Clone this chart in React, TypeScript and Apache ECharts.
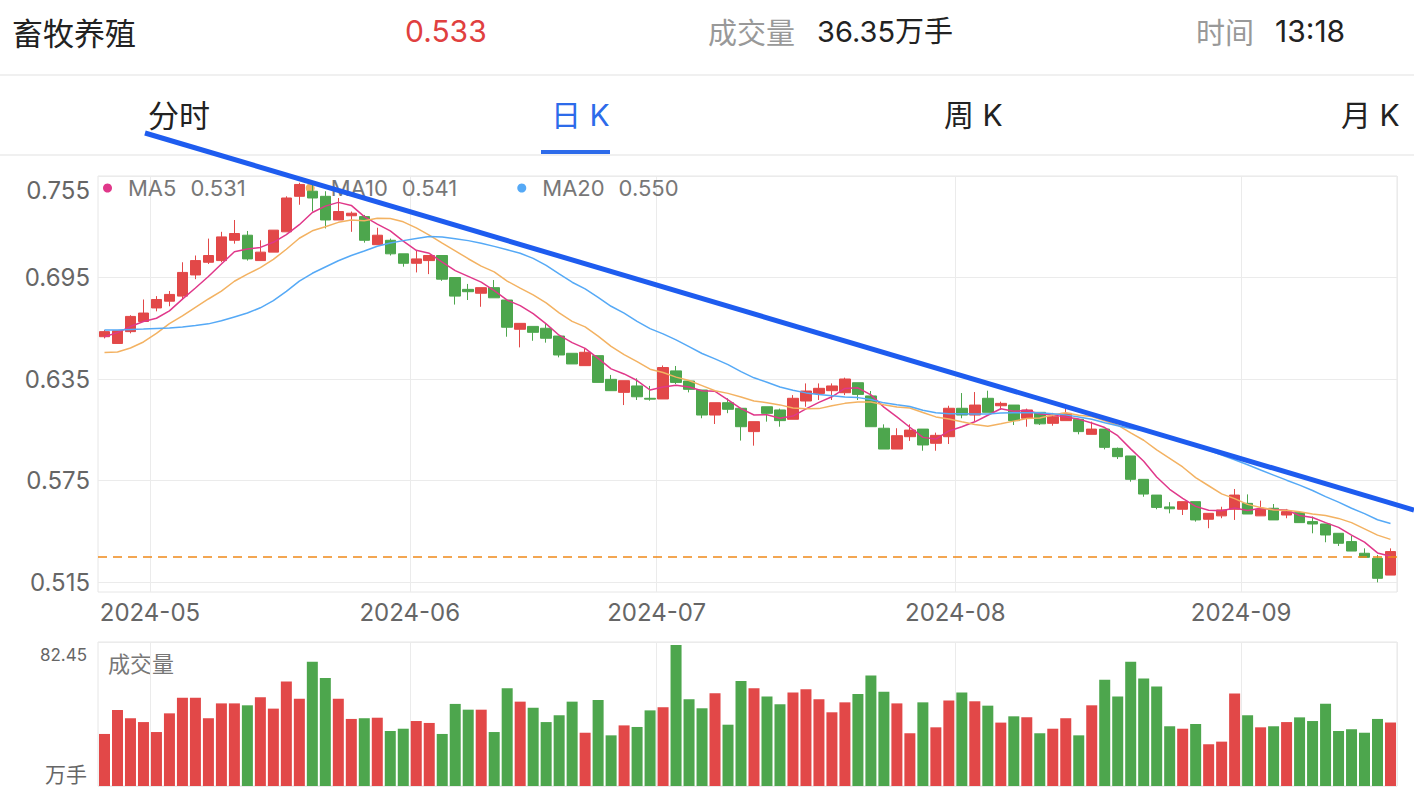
import React, { useEffect, useRef } from 'react';
import * as echarts from 'echarts';

// ---------- data ----------
const dates: string[] = [
  '2024-04-25', '2024-04-26', '2024-04-29', '2024-04-30',
  '2024-05-06', '2024-05-07', '2024-05-08', '2024-05-09', '2024-05-10', '2024-05-13', '2024-05-14', '2024-05-15', '2024-05-16', '2024-05-17',
  '2024-05-20', '2024-05-21', '2024-05-22', '2024-05-23', '2024-05-24', '2024-05-27', '2024-05-28', '2024-05-29', '2024-05-30', '2024-05-31',
  '2024-06-03', '2024-06-04', '2024-06-05', '2024-06-06', '2024-06-07', '2024-06-11', '2024-06-12', '2024-06-13', '2024-06-14', '2024-06-17',
  '2024-06-18', '2024-06-19', '2024-06-20', '2024-06-21', '2024-06-24', '2024-06-25', '2024-06-26', '2024-06-27', '2024-06-28',
  '2024-07-01', '2024-07-02', '2024-07-03', '2024-07-04', '2024-07-05', '2024-07-08', '2024-07-09', '2024-07-10', '2024-07-11', '2024-07-12',
  '2024-07-15', '2024-07-16', '2024-07-17', '2024-07-18', '2024-07-19', '2024-07-22', '2024-07-23', '2024-07-24', '2024-07-25', '2024-07-26',
  '2024-07-29', '2024-07-30', '2024-07-31',
  '2024-08-01', '2024-08-02', '2024-08-05', '2024-08-06', '2024-08-07', '2024-08-08', '2024-08-09', '2024-08-12', '2024-08-13', '2024-08-14',
  '2024-08-15', '2024-08-16', '2024-08-19', '2024-08-20', '2024-08-21', '2024-08-22', '2024-08-23', '2024-08-26', '2024-08-27', '2024-08-28',
  '2024-08-29', '2024-08-30',
  '2024-09-02', '2024-09-03', '2024-09-04', '2024-09-05', '2024-09-06', '2024-09-09', '2024-09-10', '2024-09-11', '2024-09-12', '2024-09-13',
  '2024-09-18', '2024-09-19',
];

const opens: number[] = [
  0.660, 0.656, 0.663, 0.669, 0.677, 0.681, 0.684, 0.6965, 0.704, 0.705,
  0.717, 0.720, 0.705, 0.710, 0.722, 0.743, 0.746, 0.743, 0.729, 0.7315,
  0.731, 0.7144, 0.717, 0.709, 0.7034, 0.705, 0.708, 0.695, 0.688, 0.6857,
  0.689, 0.6817, 0.6644, 0.6661, 0.665, 0.6604, 0.6502, 0.6429, 0.6488, 0.6348,
  0.6271, 0.6309, 0.6236, 0.6232, 0.6398, 0.6338, 0.6285, 0.6137, 0.621, 0.6177,
  0.6039, 0.6186, 0.6167, 0.6112, 0.622, 0.6265, 0.6281, 0.6269, 0.6328, 0.625,
  0.6059, 0.5936, 0.6009, 0.6054, 0.597, 0.6009, 0.6177, 0.6137, 0.6236, 0.6192,
  0.6196, 0.6118, 0.6153, 0.6088, 0.6104, 0.6112, 0.6023, 0.6054, 0.594, 0.5895,
  0.5757, 0.5664, 0.5594, 0.558, 0.5625, 0.5521, 0.5541, 0.558, 0.5615, 0.5541,
  0.5586, 0.5546, 0.556, 0.5507, 0.5493, 0.5438, 0.5389, 0.532, 0.529, 0.5191,
];
const closes: number[] = [
  0.663, 0.6635, 0.672, 0.674, 0.682, 0.685, 0.698, 0.705, 0.708, 0.719,
  0.721, 0.706, 0.710, 0.723, 0.742, 0.750, 0.742, 0.729, 0.734, 0.733,
  0.717, 0.720, 0.709, 0.7034, 0.706, 0.708, 0.694, 0.684, 0.6866, 0.689,
  0.683, 0.6656, 0.6679, 0.6626, 0.6591, 0.6492, 0.6439, 0.6508, 0.633, 0.6281,
  0.634, 0.6245, 0.6231, 0.6418, 0.633, 0.6289, 0.6137, 0.621, 0.6171, 0.6068,
  0.6098, 0.6147, 0.6104, 0.6236, 0.6279, 0.6295, 0.6309, 0.635, 0.6259, 0.6068,
  0.5936, 0.6015, 0.6048, 0.596, 0.6017, 0.6177, 0.6137, 0.6196, 0.6153, 0.6206,
  0.6104, 0.6167, 0.6085, 0.6127, 0.6147, 0.6039, 0.6054, 0.5946, 0.5891, 0.5757,
  0.567, 0.5591, 0.5583, 0.5625, 0.5517, 0.5556, 0.5576, 0.5664, 0.5552, 0.558,
  0.5517, 0.5566, 0.5501, 0.5493, 0.5428, 0.5379, 0.5333, 0.5296, 0.5172, 0.533,
];
const lows: number[] = [
  0.659, 0.656, 0.662, 0.669, 0.675, 0.678, 0.682, 0.694, 0.703, 0.704,
  0.715, 0.705, 0.705, 0.710, 0.722, 0.738, 0.734, 0.724, 0.729, 0.722,
  0.7156, 0.7144, 0.708, 0.7014, 0.698, 0.697, 0.693, 0.679, 0.6817, 0.6777,
  0.683, 0.660, 0.6537, 0.6576, 0.6565, 0.6478, 0.6439, 0.6429, 0.633, 0.6281,
  0.6196, 0.6226, 0.6222, 0.6232, 0.632, 0.6271, 0.6118, 0.6084, 0.6148, 0.5986,
  0.5956, 0.6098, 0.6068, 0.6112, 0.6186, 0.6226, 0.6226, 0.6255, 0.6226, 0.6068,
  0.5936, 0.5936, 0.5984, 0.5926, 0.5926, 0.5966, 0.6118, 0.6102, 0.6153, 0.6167,
  0.6078, 0.6068, 0.6078, 0.6074, 0.6104, 0.6023, 0.6023, 0.5934, 0.5877, 0.5743,
  0.5654, 0.558, 0.5556, 0.5546, 0.5507, 0.5468, 0.5527, 0.5517, 0.5552, 0.5541,
  0.5517, 0.5527, 0.5501, 0.5438, 0.5385, 0.5363, 0.5333, 0.5296, 0.5148, 0.5191,
];
const highs: number[] = [
  0.664, 0.6635, 0.6727, 0.682, 0.684, 0.687, 0.704, 0.708, 0.718, 0.722,
  0.729, 0.7225, 0.717, 0.723, 0.743, 0.751, 0.750, 0.746, 0.742, 0.734,
  0.732, 0.7244, 0.718, 0.709, 0.711, 0.708, 0.708, 0.695, 0.6912, 0.689,
  0.6935, 0.6817, 0.668, 0.6661, 0.6675, 0.6604, 0.6502, 0.6531, 0.6488, 0.6374,
  0.634, 0.6354, 0.6309, 0.643, 0.6427, 0.6338, 0.6285, 0.621, 0.6236, 0.6177,
  0.6098, 0.6186, 0.6175, 0.6255, 0.6324, 0.6324, 0.6324, 0.6358, 0.6328, 0.6279,
  0.6082, 0.6059, 0.6082, 0.6054, 0.6033, 0.6192, 0.6267, 0.6273, 0.6281, 0.6216,
  0.6196, 0.6175, 0.6153, 0.615, 0.6196, 0.6112, 0.6098, 0.6054, 0.5945, 0.5895,
  0.5757, 0.5664, 0.5622, 0.5625, 0.5625, 0.5556, 0.5595, 0.570, 0.5668, 0.5631,
  0.5611, 0.5582, 0.5565, 0.5537, 0.5493, 0.5438, 0.5422, 0.5349, 0.531, 0.5349,
];
// volume, 万手
const volumes: number[] = [
  29.8, 43.5, 38.8, 36.6, 30.9, 41.6, 50.6, 50.6, 38.8, 47.3,
  47.3, 46.2, 50.8, 44.3, 59.9, 50.0, 71.2, 61.8, 50.0, 38.4,
  38.8, 39.1, 31.5, 32.8, 37.2, 36.1, 29.8, 47.0, 43.7, 43.7,
  30.9, 55.9, 48.3, 44.8, 36.6, 40.5, 48.3, 30.5, 49.2, 29.0,
  34.7, 33.8, 43.3, 45.1, 80.7, 49.6, 44.5, 53.1, 35.1, 60.1,
  55.9, 51.2, 46.8, 53.6, 55.4, 49.6, 42.2, 47.9, 52.7, 63.2,
  54.0, 47.3, 30.2, 47.9, 33.6, 48.9, 53.6, 48.5, 46.0, 36.3,
  39.9, 39.3, 30.2, 32.8, 38.8, 29.0, 46.2, 60.9, 51.3, 71.2,
  61.6, 56.9, 34.2, 32.8, 35.5, 23.9, 25.4, 52.9, 40.5, 33.6,
  34.2, 36.6, 39.3, 37.2, 47.1, 31.5, 32.5, 30.5, 38.4, 36.35,
];
// closes of the 19 sessions before the first shown candle (estimated from where the MA lines start)
const priorCloses: number[] = [
  0.665, 0.664, 0.670, 0.675, 0.680, 0.684, 0.690, 0.688, 0.682, 0.676,
  0.660, 0.648, 0.638, 0.6315, 0.6285, 0.6515, 0.654, 0.659, 0.6725,
];

const maPeriods: number[] = [5, 10, 20];
const maNames: string[] = ['MA5', 'MA10', 'MA20'];
const maLegendValues: string[] = ['0.531', '0.541', '0.550'];
const maColors: string[] = ['#E0388A', '#F3B262', '#55A9F6'];

const priceTicks: number[] = [0.515, 0.575, 0.635, 0.695, 0.755];
const priceMin = 0.5091;
const priceMax = 0.755;
const volTicks: number[] = [0, 82.45];

const header = { name: '畜牧养殖', price: '0.533', volLabel: '成交量', vol: '36.35万手', timeLabel: '时间', time: '13:18' };
const tabs: string[] = ['分时', '日 K', '周 K', '月 K'];

const UP = '#E24848';
const DOWN = '#4DA64D';
const CJK = '"Noto Sans CJK SC", sans-serif';
const LAT = 'Inter, "Noto Sans CJK SC", sans-serif';

function movingAverage(period: number): (number | string)[] {
  const all = priorCloses.concat(closes);
  const off = priorCloses.length;
  return closes.map((_, i) => {
    const end = off + i;
    if (end - period + 1 < 0) return '-';
    let s = 0;
    for (let k = end - period + 1; k <= end; k++) s += all[k];
    return +(s / period).toFixed(4);
  });
}

const isMonthStart = (i: number) => i > 0 && dates[i].slice(0, 7) !== dates[i - 1].slice(0, 7);

export default function App() {
  const ref = useRef<HTMLDivElement>(null);
  useEffect(() => {
    document.body.style.margin = '0';
    const chart = echarts.init(ref.current!, null, { renderer: 'svg' });
    const ohlc = dates.map((_, i) => [opens[i], closes[i], lows[i], highs[i]]);
    const volData = volumes.map((v, i) => ({
      value: v,
      itemStyle: { color: closes[i] >= opens[i] ? UP : DOWN },
    }));
    const legendMap: Record<string, string> = {};
    maNames.forEach((n, i) => (legendMap[n] = maLegendValues[i]));

    const gridLine = { show: true, lineStyle: { color: '#EBEBEB', width: 1 } };
    const txt = (x: number, y: number, text: string, size: number, fill: string, family: string) => ({
      type: 'text',
      x,
      y,
      style: { text, fontSize: size, fontFamily: family, fill, verticalAlign: 'middle' },
    });

    const option: any = {
      animation: false,
      textStyle: { fontFamily: LAT },
      legend: {
        data: maNames,
        left: 103,
        top: 177,
        padding: 0,
        icon: 'circle',
        itemWidth: 9,
        itemHeight: 9,
        itemGap: 60,
        selectedMode: false,
        z: 1,
        formatter: (name: string) => `{n|${name}}{v|${legendMap[name]}}`,
        textStyle: {
          rich: {
            n: { fontSize: 22, lineHeight: 26, color: '#777', padding: [0, 0, 0, 11], fontFamily: LAT },
            v: { fontSize: 22, lineHeight: 26, color: '#777', padding: [0, 0, 0, 14], fontFamily: LAT },
          },
        },
      },
      grid: [
        { left: 98, top: 176, width: 1299, height: 416, show: true, borderColor: '#E6E6E6', borderWidth: 1 },
        { left: 98, top: 642, width: 1299, height: 144, show: true, borderColor: '#E6E6E6', borderWidth: 1 },
      ],
      xAxis: [
        {
          gridIndex: 0,
          type: 'category',
          data: dates,
          boundaryGap: true,
          axisLine: { show: false },
          axisTick: { show: false },
          axisLabel: {
            interval: (i: number) => isMonthStart(i),
            formatter: (v: string) => v.slice(0, 7),
            color: '#666',
            fontSize: 24,
            margin: 8,
            padding: [0, 13, 0, 0],
            fontFamily: LAT,
          },
          splitLine: { ...gridLine, interval: (i: number) => isMonthStart(i) },
        },
        {
          gridIndex: 1,
          type: 'category',
          data: dates,
          boundaryGap: true,
          axisLine: { show: false },
          axisTick: { show: false },
          axisLabel: { show: false },
          splitLine: { ...gridLine, interval: (i: number) => isMonthStart(i) },
        },
      ],
      yAxis: [
        {
          gridIndex: 0,
          type: 'value',
          min: priceMin,
          max: priceMax,
          axisLine: { show: false },
          axisTick: { show: false, customValues: priceTicks },
          axisLabel: {
            customValues: priceTicks,
            color: '#666',
            fontSize: 24,
            margin: 8,
            fontFamily: LAT,
            formatter: (v: number) =>
              Math.abs(v - priceMax) < 1e-6 ? `{top|${v.toFixed(3)}}` : v.toFixed(3),
            rich: { top: { padding: [28, 0, 0, 0], fontSize: 24, color: '#666', fontFamily: LAT } },
          },
          splitLine: gridLine,
        },
        {
          gridIndex: 1,
          type: 'value',
          min: volTicks[0],
          max: volTicks[1],
          interval: volTicks[1],
          axisLine: { show: false },
          axisTick: { show: false },
          axisLabel: {
            color: '#666',
            fontSize: 17,
            margin: 11,
            fontFamily: LAT,
            formatter: (v: number) => (v === 0 ? '{b|万手}' : `{t|${volTicks[1].toFixed(2)}}`),
            rich: {
              t: { padding: [26, 0, 0, 0], fontSize: 17, color: '#666', fontFamily: LAT },
              b: { padding: [0, 0, 26, 0], fontSize: 21, color: '#666', fontFamily: CJK },
            },
          },
          splitLine: gridLine,
        },
      ],
      series: [
        {
          name: 'K',
          type: 'candlestick',
          xAxisIndex: 0,
          yAxisIndex: 0,
          data: ohlc,
          barWidth: 11,
          z: 2,
          itemStyle: { color: UP, color0: DOWN, borderColor: UP, borderColor0: DOWN, borderWidth: 1 },
          markLine: {
            silent: true,
            symbol: 'none',
            label: { show: false },
            lineStyle: { color: '#F0891A', type: [9, 6], width: 1.5 },
            data: [{ yAxis: closes[closes.length - 1] }],
          },
        },
        ...maPeriods.map((p, k) => ({
          name: maNames[k],
          type: 'line',
          xAxisIndex: 0,
          yAxisIndex: 0,
          data: movingAverage(p),
          showSymbol: false,
          symbol: 'none',
          z: 3,
          itemStyle: { color: maColors[k] },
          lineStyle: { color: maColors[k], width: 1.5 },
        })),
        {
          name: '成交量',
          type: 'bar',
          xAxisIndex: 1,
          yAxisIndex: 1,
          data: volData,
          barWidth: 11,
        },
      ],
      graphic: [
        txt(12, 31, header.name, 31, '#222', CJK),
        txt(405, 31, header.price, 30, '#E0403F', LAT),
        txt(708, 31, header.volLabel, 29, '#999', CJK),
        txt(817, 31, header.vol, 29, '#222', LAT),
        txt(1196, 31, header.timeLabel, 29, '#999', CJK),
        txt(1275, 31, header.time, 30, '#222', LAT),
        { type: 'rect', shape: { x: 0, y: 74, width: 1414, height: 2 }, style: { fill: '#F0F0F0' } },
        txt(148, 115, tabs[0], 31, '#222', LAT),
        txt(551, 115, tabs[1], 30, '#2D6BEA', LAT),
        txt(944, 115, tabs[2], 30, '#222', LAT),
        txt(1341, 115, tabs[3], 30, '#222', LAT),
        { type: 'rect', shape: { x: 541, y: 150, width: 69, height: 4 }, style: { fill: '#2D6BEA' } },
        { type: 'rect', shape: { x: 0, y: 154, width: 1414, height: 2 }, style: { fill: '#F0F0F0' } },
        txt(108, 662, '成交量', 22, '#777', CJK),
        {
          type: 'line',
          z: 100,
          shape: { x1: 145, y1: 133, x2: 1414, y2: 510 },
          style: { stroke: '#1E5CEF', lineWidth: 5 },
        },
      ],
    };
    chart.setOption(option);
    return () => chart.dispose();
  }, []);
  return <div ref={ref} style={{ width: 1414, height: 796 }} />;
}
